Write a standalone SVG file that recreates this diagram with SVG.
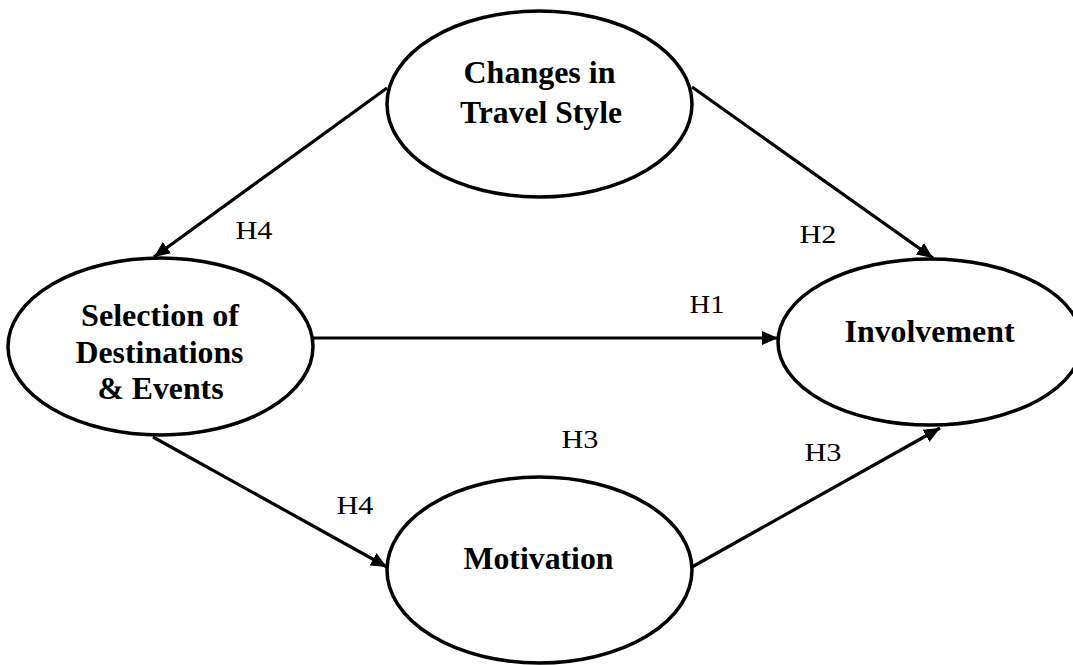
<svg xmlns="http://www.w3.org/2000/svg" width="1073" height="665" viewBox="0 0 1073 665">
<style>
.node ellipse{fill:#fff;stroke:#000;stroke-width:3.5}
.node text{font-family:'Liberation Serif','Times New Roman',Times,serif;font-weight:bold;font-size:31px;fill:#000;text-anchor:middle}
.edge{stroke:#000;stroke-width:3.2;fill:none;marker-end:url(#arr)}
.lbl{font-family:'Liberation Serif','Times New Roman',Times,serif;font-size:26px;fill:#000;text-anchor:middle}
</style>
<defs>
<marker id="arr" markerUnits="userSpaceOnUse" markerWidth="17" markerHeight="15" refX="16" refY="7" orient="auto">
<path d="M0,0 L16,7 L0,14 z" fill="#000"/>
</marker>
</defs>
<rect width="1073" height="665" fill="#fff"/>
<g id="connectors">
<line class="edge" x1="387" y1="88" x2="154" y2="257"/>
<line class="edge" x1="692" y1="87" x2="933" y2="258"/>
<line class="edge" x1="312" y1="338" x2="778" y2="338"/>
<line class="edge" x1="153" y1="437" x2="387" y2="567"/>
<line class="edge" x1="692" y1="567" x2="940" y2="428"/>
<text class="lbl" x="254" y="239" textLength="37" lengthAdjust="spacingAndGlyphs">H4</text>
<text class="lbl" x="818" y="243" textLength="37" lengthAdjust="spacingAndGlyphs">H2</text>
<text class="lbl" x="707" y="313" textLength="35" lengthAdjust="spacingAndGlyphs">H1</text>
<text class="lbl" x="580" y="448" textLength="37" lengthAdjust="spacingAndGlyphs">H3</text>
<text class="lbl" x="355" y="514" textLength="37" lengthAdjust="spacingAndGlyphs">H4</text>
<text class="lbl" x="823" y="461" textLength="37" lengthAdjust="spacingAndGlyphs">H3</text>
</g>
<g id="node-changes" class="node">
<ellipse cx="539.5" cy="104" rx="152.5" ry="93"/>
<text x="539.5" y="83" textLength="152" lengthAdjust="spacingAndGlyphs">Changes in</text>
<text x="541" y="123" textLength="162" lengthAdjust="spacingAndGlyphs">Travel Style</text>
</g>
<g id="node-selection" class="node">
<ellipse cx="160.5" cy="346.5" rx="152.5" ry="88.5"/>
<text x="160" y="326" textLength="158" lengthAdjust="spacingAndGlyphs">Selection of</text>
<text x="159.5" y="363" textLength="168" lengthAdjust="spacingAndGlyphs">Destinations</text>
<text x="160.5" y="399" textLength="126" lengthAdjust="spacingAndGlyphs">&amp; Events</text>
</g>
<g id="node-involvement" class="node">
<ellipse cx="930" cy="342" rx="152" ry="83"/>
<text x="929.5" y="342" textLength="170" lengthAdjust="spacingAndGlyphs">Involvement</text>
</g>
<g id="node-motivation" class="node">
<ellipse cx="539.5" cy="570" rx="152.5" ry="93"/>
<text x="538.5" y="569" textLength="150" lengthAdjust="spacingAndGlyphs">Motivation</text>
</g>
</svg>
